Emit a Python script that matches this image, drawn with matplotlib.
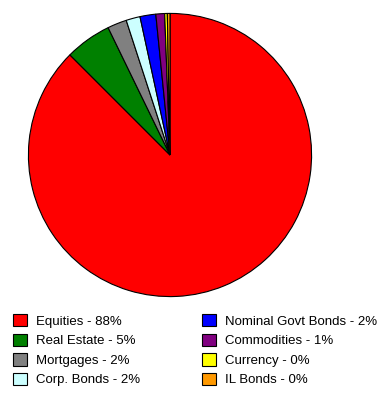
import matplotlib.pyplot as plt
from matplotlib.patches import Patch

plt.rcParams['font.family'] = ['Liberation Sans', 'DejaVu Sans']

labels = ['Equities', 'Real Estate', 'Mortgages', 'Corp. Bonds',
          'Nominal Govt Bonds', 'Commodities', 'Currency', 'IL Bonds']
values = [87.5, 5.3, 2.2, 1.6, 1.8, 1.0, 0.3, 0.3]
shown = [88, 5, 2, 2, 2, 1, 0, 0]
colors = ['#ff0000', '#008000', '#808080', '#ccffff',
          '#0000ff', '#800080', '#ffff00', '#ff9900']

fig = plt.figure(figsize=(3.8, 3.94), dpi=100)

# pie area
ax = fig.add_axes([27/380, 96/394, 286/380, 286/394])
ax.pie(values, colors=colors, startangle=90, counterclock=False,
       wedgeprops=dict(edgecolor='black', linewidth=0.8))
ax.set_xlim(-1.01, 1.01)
ax.set_ylim(-1.01, 1.01)
ax.set_aspect('auto')
ax.axis('off')

# legend: two columns of four, placed separately
handles = [Patch(facecolor=c, edgecolor='black', linewidth=0.8) for c in colors]
texts = [f'{l} - {s}%' for l, s in zip(labels, shown)]
for col, x0 in enumerate([13, 202]):
    sl = slice(col * 4, col * 4 + 4)
    fig.legend(handles[sl], texts[sl], loc='upper left',
               bbox_to_anchor=(x0/380, (394 - 314)/394),
               frameon=False, fontsize=9.5, handlelength=1.06,
               handleheight=1.06, handletextpad=0.72,
               labelspacing=0.45, borderpad=0, borderaxespad=0)

fig.savefig('out.png', dpi=100)
